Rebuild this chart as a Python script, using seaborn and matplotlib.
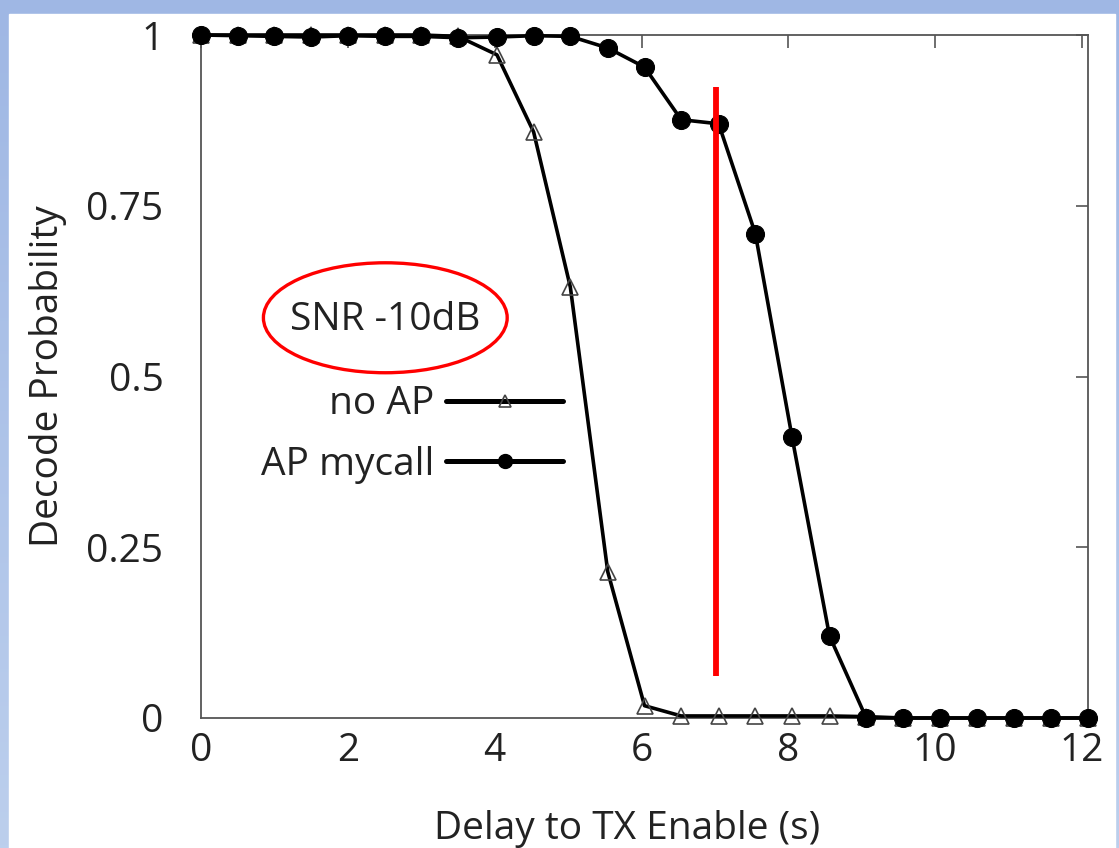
import numpy as np
import pandas as pd
import matplotlib
matplotlib.use("Agg")
import matplotlib.pyplot as plt
import seaborn as sns
from matplotlib.patches import Ellipse, Rectangle
from matplotlib.lines import Line2D
from matplotlib.colors import LinearSegmentedColormap

# ---- data ----
delay = [0.0, 0.5, 1.0, 1.5, 2.0, 2.5, 3.0, 3.5, 4.03, 4.53, 5.03, 5.54, 6.04,
         6.54, 7.05, 7.55, 8.05, 8.56, 9.06, 9.56, 10.07, 10.57, 11.07, 11.58, 12.08]
no_ap = [1.0, 1.0, 1.0, 1.0, 1.0, 1.0, 1.0, 0.998, 0.971, 0.858, 0.631, 0.214, 0.018,
         0.003, 0.003, 0.003, 0.003, 0.003, 0.002, 0.0, 0.0, 0.0, 0.0, 0.0, 0.0]
ap_mycall = [1.0, 0.999, 0.998, 0.997, 0.999, 0.998, 0.998, 0.996, 0.997, 0.999, 0.998,
             0.981, 0.953, 0.876, 0.870, 0.709, 0.411, 0.120, 0.0, 0.0, 0.0, 0.0, 0.0, 0.0, 0.0]
series_names = ["no AP", "AP mycall"]
x_ticks = [0, 2, 4, 6, 8, 10, 12]
y_ticks = [0, 0.25, 0.5, 0.75, 1]
y_ticklabels = ["0", "0.25", "0.5", "0.75", "1"]
annotation = "SNR -10dB"
marker_line_x = 7.02

df = pd.DataFrame({"delay": delay, "no AP": no_ap, "AP mycall": ap_mycall})

sns.set_theme(style="white")
plt.rcParams["font.family"] = ["Open Sans", "DejaVu Sans"]
TXT = "#222222"
SP = "#555555"
FS = 28

fig = plt.figure(figsize=(11.19, 8.48), dpi=100)
fig.patch.set_facecolor("white")

# slide background frame (blue)
W, H = 1119, 848
bg = fig.add_axes([0, 0, 1, 1], zorder=-10)
grad = np.linspace(0, 1, 256).reshape(-1, 1)
cm = LinearSegmentedColormap.from_list("bl", ["#bccfed", "#9fb7e4"])
bg.imshow(grad, aspect="auto", cmap=cm, extent=[0, 1, 0, 1], origin="lower")
bg.add_patch(Rectangle((9 / W, 0), (1115 - 9) / W, 1 - 14 / H, color="white", zorder=2))
bg.set_xlim(0, 1); bg.set_ylim(0, 1)
bg.axis("off")

ax = fig.add_axes([201 / W, 1 - 718 / H, (1088 - 201) / W, (718 - 35) / H])
ax.set_facecolor("white")

sns.lineplot(data=df, x="delay", y="no AP", ax=ax, color="black", linewidth=2.6,
             marker="^", markersize=11, markerfacecolor="none",
             markeredgecolor="#444444", markeredgewidth=1.2, clip_on=False, zorder=3)
sns.lineplot(data=df, x="delay", y="AP mycall", ax=ax, color="black", linewidth=2.6,
             marker="o", markersize=13, markerfacecolor="black",
             markeredgecolor="black", clip_on=False, zorder=4)

ax.set_xlim(0, 12.08)
ax.set_ylim(0, 1)
ax.set_xticks(x_ticks)
ax.set_xticklabels([str(t) for t in x_ticks])
ax.set_yticks(y_ticks)
ax.set_yticklabels(y_ticklabels)
ax.tick_params(axis="both", direction="in", length=9, width=1.2, color=SP,
               labelsize=FS, labelcolor=TXT, top=True, right=True)
ax.tick_params(axis="y", pad=27)
ax.tick_params(axis="x", pad=10)
for s in ax.spines.values():
    s.set_color(SP)
    s.set_linewidth(1.3)

ax.set_xlabel("Delay to TX Enable (s)", fontsize=FS, color=TXT, labelpad=31)
ax.xaxis.set_label_coords(0.48, -0.135)
ax.set_ylabel("Decode Probability", fontsize=FS, color=TXT, labelpad=14)

# red vertical marker
ax.vlines(marker_line_x, 0.061, 0.924, color="#ff0000", linewidth=4.2, zorder=5)

# annotation with ellipse
ax.add_patch(Ellipse((2.51, 0.586), 3.32, 0.161, fill=False, edgecolor="#ff0000",
                     linewidth=2.4, zorder=5))
ax.text(2.51, 0.583, annotation, ha="center", va="center", fontsize=FS, color=TXT)

handles = [
    Line2D([], [], color="black", linewidth=3.6, marker="^", markersize=8,
           markerfacecolor="none", markeredgecolor="#444444", markeredgewidth=1.2),
    Line2D([], [], color="black", linewidth=3.6, marker="o", markersize=10,
           markerfacecolor="black"),
]
leg = ax.legend(handles, series_names, loc="center right", bbox_to_anchor=(0.408, 0.415),
                frameon=False, markerfirst=False, fontsize=FS, handlelength=3.0,
                handletextpad=0.3, labelspacing=0.58, borderaxespad=0, borderpad=0)
for t in leg.get_texts():
    t.set_color(TXT)
    t.set_ha("right")

fig.savefig("out.png", dpi=100, facecolor=fig.get_facecolor())
